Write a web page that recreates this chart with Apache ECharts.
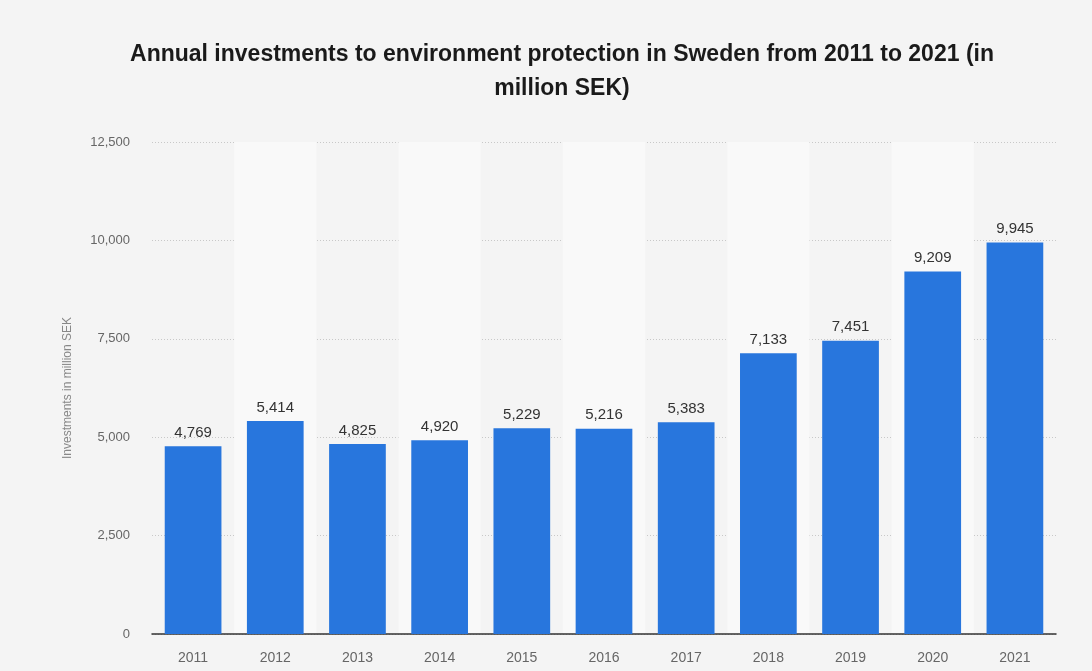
<!DOCTYPE html>
<html>
<head>
<meta charset="utf-8">
<script src="https://cdn.jsdelivr.net/npm/echarts@6/dist/echarts.min.js"></script>
<style>
  html, body { margin: 0; padding: 0; background: #f4f4f4; }
  #chart { width: 1092px; height: 671px; }
</style>
</head>
<body>
<div id="chart"></div>
<script>
// Annual investments in environment protection, Sweden (million SEK)
const years = ['2011', '2012', '2013', '2014', '2015', '2016', '2017', '2018', '2019', '2020', '2021'];
const investments = [4769, 5414, 4825, 4920, 5229, 5216, 5383, 7133, 7451, 9209, 9945];
const yTicks = [0, 2500, 5000, 7500, 10000, 12500];

const chart = echarts.init(document.getElementById('chart'), null, { renderer: 'canvas' });

chart.setOption({
  backgroundColor: '#f4f4f4',
  animation: false,
  title: {
    text: 'Annual investments to environment protection in Sweden from 2011 to 2021 (in\nmillion SEK)',
    left: 557,
    textAlign: 'center',
    top: 33,
    textStyle: {
      fontFamily: 'Liberation Sans, Arial, sans-serif',
      fontWeight: 'bold',
      fontSize: 23,
      lineHeight: 34,
      color: '#1a1a1a'
    }
  },
  grid: { left: 152, right: 36, top: 142, bottom: 37 },
  xAxis: {
    type: 'category',
    data: years,
    axisTick: { show: false },
    axisLine: { lineStyle: { color: '#333', width: 1.5 } },
    axisLabel: {
      color: '#666',
      fontSize: 14,
      margin: 17,
      fontFamily: 'Liberation Sans, Arial, sans-serif'
    },
    splitArea: {
      show: true,
      areaStyle: { color: ['rgba(0,0,0,0)', '#f9f9f9'] }
    }
  },
  yAxis: {
    type: 'value',
    min: yTicks[0],
    max: yTicks[yTicks.length - 1],
    interval: yTicks[1] - yTicks[0],
    name: 'Investments in million SEK',
    nameLocation: 'middle',
    nameGap: 78,
    nameTextStyle: {
      color: '#888',
      fontSize: 12,
      fontFamily: 'Liberation Sans, Arial, sans-serif'
    },
    axisLine: { show: false },
    axisTick: { show: false },
    axisLabel: {
      color: '#666',
      fontSize: 13,
      margin: 22,
      fontFamily: 'Liberation Sans, Arial, sans-serif',
      formatter: v => v.toLocaleString('en-US')
    },
    splitLine: {
      lineStyle: { color: '#c8c8c8', type: [1, 2], width: 1 }
    }
  },
  series: [{
    type: 'bar',
    data: investments,
    barCategoryGap: '31%',
    itemStyle: { color: '#2876dd' },
    label: {
      show: true,
      position: 'top',
      distance: 6,
      color: '#333',
      fontSize: 15,
      fontFamily: 'Liberation Sans, Arial, sans-serif',
      formatter: p => p.value.toLocaleString('en-US')
    }
  }]
});
</script>
</body>
</html>
